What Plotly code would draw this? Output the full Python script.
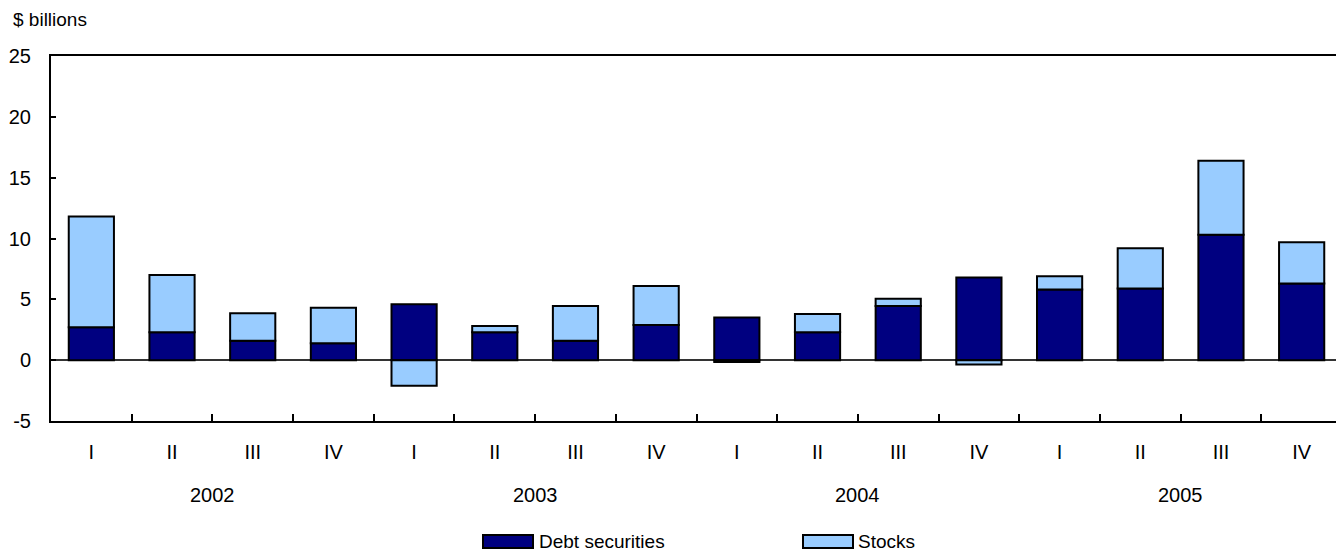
import plotly.graph_objects as go

years = ["2002", "2003", "2004", "2005"]
quarters = ["I", "II", "III", "IV"]
categories = [f"{y} {q}" for y in years for q in quarters]
tick_labels = quarters * 4
debt = [2.7, 2.3, 1.6, 1.4, 4.6, 2.3, 1.6, 2.9, 3.5, 2.3, 4.45, 6.8, 5.8, 5.9, 10.3, 6.3]
stocks = [9.1, 4.7, 2.25, 2.9, -2.1, 0.5, 2.85, 3.2, -0.15, 1.5, 0.6, -0.35, 1.1, 3.3, 6.1, 3.4]
y_tick_vals = [-5, 0, 5, 10, 15, 20, 25]
y_tick_text = ["-5", "0", "5", "10", "15", "20", "25"]
series_names = ["Debt securities", "Stocks"]
series_colors = ["#000080", "#99CCFF"]

font = "Liberation Sans, Arial, sans-serif"
# the page body has an 8px default margin, so the figure starts at (8, 8) in the window
OFF = 8
W, H = 1344 - OFF, 552 - OFF
L, R, T, B = 51 - OFF, 2, 56 - OFF, 131
PW, PH = W - L - R, H - T - B


def px(x):
    return (x - OFF - L) / PW


def py(y):
    return (H - B - (y - OFF)) / PH


fig = go.Figure()
for vals, name, color in zip([debt, stocks], series_names, series_colors):
    fig.add_trace(go.Bar(x=categories, y=vals, name=name,
                         marker=dict(color=color, line=dict(color="black", width=2)),
                         width=0.56))

annotations = [dict(text="$ billions", x=px(12), y=py(OFF), xref="paper", yref="paper",
                    xanchor="left", yanchor="top", showarrow=False, borderpad=0,
                    font=dict(size=19, color="black", family=font))]
for i, y in enumerate(years):
    annotations.append(dict(text=y, x=i * 4 + 1.5, xref="x", y=py(495), yref="paper",
                            xanchor="center", yanchor="middle", showarrow=False,
                            font=dict(size=20, color="black", family=font)))

# manual legend with wide swatches
shapes = []
legend_items = [(483, 533, series_names[0], series_colors[0], 537),
                (803, 853, series_names[1], series_colors[1], 856)]
for x0, x1, name, color, tx in legend_items:
    shapes.append(dict(type="rect", xref="paper", yref="paper",
                       x0=px(x0), x1=px(x1), y0=py(548), y1=py(535),
                       fillcolor=color, line=dict(color="black", width=2)))
    annotations.append(dict(text=name, x=px(tx), y=py(541), xref="paper", yref="paper",
                            xanchor="left", yanchor="middle", showarrow=False,
                            font=dict(size=19, color="black", family=font)))

fig.update_layout(
    width=W, height=H,
    margin=dict(l=L, r=R, t=T, b=B),
    barmode="relative",
    plot_bgcolor="white", paper_bgcolor="white",
    font=dict(family=font, size=20, color="black"),
    showlegend=False,
    annotations=annotations,
    shapes=shapes,
)
fig.update_xaxes(type="category", tickmode="array", tickvals=categories, ticktext=tick_labels,
                 tickson="boundaries", ticks="inside", ticklen=7, tickwidth=2, tickcolor="black",
                 showline=True, linecolor="black", linewidth=2, mirror=True,
                 ticklabelstandoff=12, showgrid=False, automargin=False)
fig.update_yaxes(range=[-5, 25], tickmode="array", tickvals=y_tick_vals, ticktext=y_tick_text,
                 ticks="inside", ticklen=5, tickwidth=2, tickcolor="black",
                 showline=True, linecolor="black", linewidth=2, mirror=True,
                 ticklabelstandoff=14, automargin=False,
                 showgrid=False, zeroline=True, zerolinecolor="#333333", zerolinewidth=1.5)

fig.write_html("out.html")
